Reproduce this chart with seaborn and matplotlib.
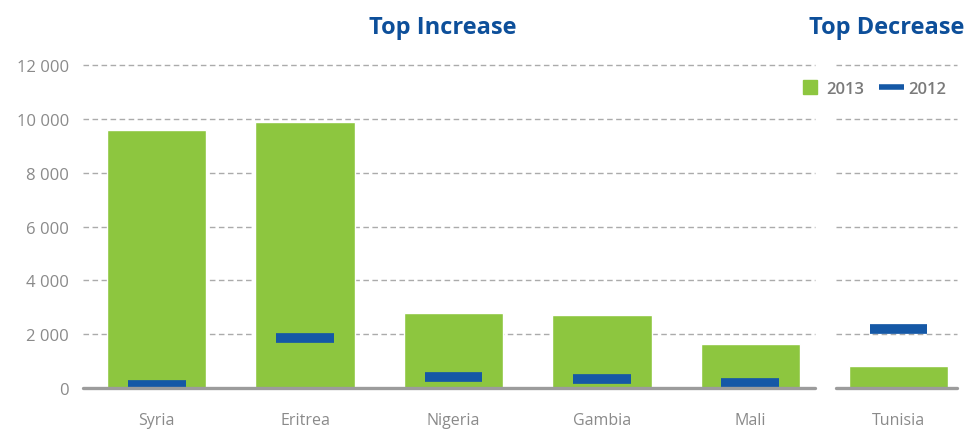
import matplotlib
matplotlib.use("Agg")
import matplotlib.pyplot as plt
from matplotlib.lines import Line2D
import seaborn as sns
import pandas as pd

# Asylum applications by country of origin
countries_up = ["Syria", "Eritrea", "Nigeria", "Gambia", "Mali"]
values_up_2013 = [9600, 9900, 2800, 2700, 1650]
values_up_2012 = [130, 1860, 410, 320, 200]

countries_down = ["Tunisia"]
values_down_2013 = [820]
values_down_2012 = [2210]

yticks = [0, 2000, 4000, 6000, 8000, 10000, 12000]
ytick_labels = ["0", "2 000", "4 000", "6 000", "8 000", "10 000", "12 000"]

GREEN = "#8dc63f"
BLUE = "#1558a6"
TITLE_BLUE = "#0d4f9a"
GREY_TXT = "#8a8a8a"
GRID = "#ababab"

sns.set_theme(style="white")
plt.rcParams["font.family"] = ["Open Sans", "DejaVu Sans"]

fig = plt.figure(figsize=(9.73, 4.31), dpi=100)
ax_up = fig.add_axes([0.0853, 0.0974, 0.7523, 0.7495])
ax_down = fig.add_axes([0.8592, 0.0974, 0.1244, 0.7495])


def draw_panel(ax, cats, v13, v12, xlim, title):
    df = pd.DataFrame({"country": cats, "v2013": v13, "v2012": v12})
    sns.barplot(data=df, x="country", y="v2013", color=GREEN, width=0.67,
                saturation=1, ax=ax, zorder=2)
    xs = range(len(cats))
    ax.hlines(df["v2012"], [x - 0.195 for x in xs], [x + 0.195 for x in xs],
              colors=BLUE, linewidth=7, zorder=4, capstyle="butt")
    ax.set_ylim(0, 12000)
    ax.set_xlim(*xlim)
    for y in yticks[1:]:
        ax.axhline(y, color=GRID, lw=1.0, ls=(0, (4, 2.5)), zorder=1, clip_on=False)
    ax.axhline(0, color="#9c9c9c", lw=2.4, zorder=5, clip_on=False)
    for s in ax.spines.values():
        s.set_visible(False)
    ax.set_xlabel("")
    ax.set_ylabel("")
    ax.tick_params(axis="x", length=0, labelsize=11.5, colors=GREY_TXT, pad=17)
    ax.set_title(title, fontsize=17, fontweight="bold", color=TITLE_BLUE,
                 pad=23, loc="center")


draw_panel(ax_up, countries_up, values_up_2013, values_up_2012,
           (-0.497, 4.436), "Top Increase")
ax_up.set_yticks(yticks)
ax_up.set_yticklabels(ytick_labels)
ax_up.tick_params(axis="y", length=0, labelsize=12, colors=GREY_TXT, pad=10)
ax_up.title.set_x(0.492)

draw_panel(ax_down, countries_down, values_down_2013, values_down_2012,
           (-0.422, 0.395), "Top Decrease")
ax_down.set_yticks([])
ax_down.title.set_x(0.42)

handles = [
    Line2D([], [], marker="s", linestyle="none", markersize=10, color=GREEN),
    Line2D([], [], color=BLUE, lw=4, solid_capstyle="butt"),
]
leg = fig.legend(handles, ["2013", "2012"], loc="center left",
                 bbox_to_anchor=(0.804, 0.792), ncol=2, frameon=False,
                 fontsize=12, handlelength=1.5, handletextpad=0.25,
                 columnspacing=0.85)
for t in leg.get_texts():
    t.set_color("#7a7a7a")
    t.set_fontweight("semibold")

fig.savefig("out.png", dpi=100)
